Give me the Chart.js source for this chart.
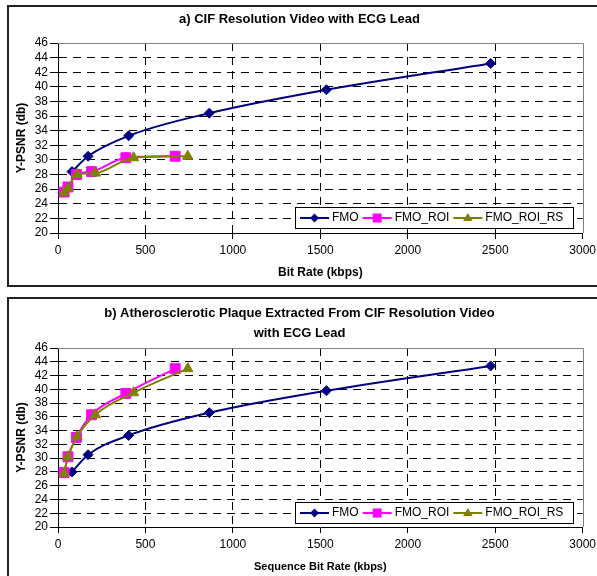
<!DOCTYPE html>
<html>
<head>
<meta charset="utf-8">
<script src="https://cdn.jsdelivr.net/npm/chart.js@4.4.0/dist/chart.umd.min.js"></script>
<style>
  html, body { margin: 0; padding: 0; background: #fff; overflow: hidden; }
  .box { position: absolute; left: 7px; width: 595px; border: 2px solid #222; box-sizing: border-box; background: #fff; }
  #boxA { top: 5px; height: 282px; }
  #boxB { top: 297px; height: 281px; }
  canvas { display: block; }
</style>
</head>
<body>
<div class="box" id="boxA"><canvas id="chartA" width="591" height="278"></canvas></div>
<div class="box" id="boxB"><canvas id="chartB" width="591" height="277"></canvas></div>
<script>
// bit rates (kbps), same encodings in both plots
const fmoRate = [80, 172, 404, 865, 1535, 2474];
const roiRate = [35, 57, 105, 192, 388, 670];
const roiRsRate = [35, 57, 109, 214, 432, 742];

// a) whole CIF frame, Y-PSNR (db)
const fmoA = [28.4, 30.5, 33.3, 36.4, 39.6, 43.2];
const roiA = [25.6, 26.3, 28.0, 28.4, 30.3, 30.5];
const roiRsA = [25.5, 26.1, 28.0, 28.2, 30.3, 30.5];

// b) plaque region only
const fmoB = [28.0, 30.5, 33.3, 36.6, 39.8, 43.4];
const roiB = [27.9, 30.2, 33.0, 36.3, 39.4, 43.0];
const roiRsB = [27.8, 30.2, 33.1, 36.3, 39.5, 43.0];

const seriesNames = ["FMO", "FMO_ROI", "FMO_ROI_RS"];
const yRange = [20, 46, 2];      // min, max, step
const xRange = [0, 3000, 500];

const colors = ["#000080", "#FF00FF", "#808000"];
const markers = ["rectRot", "rect", "triangle"];
const markerSize = [5, 7, 6];
const FONT = 'Arial, "Liberation Sans", sans-serif';

Chart.defaults.font.family = FONT;
Chart.defaults.color = "#000";

// small marker for the legend
function drawMarker(ctx, style, x, y, r) {
  ctx.beginPath();
  if (style === "rectRot") {
    ctx.moveTo(x, y - r); ctx.lineTo(x + r, y); ctx.lineTo(x, y + r); ctx.lineTo(x - r, y);
  } else if (style === "rect") {
    ctx.rect(x - r, y - r, 2 * r, 2 * r);
  } else {
    ctx.moveTo(x, y - r); ctx.lineTo(x + r * 0.95, y + r * 0.6); ctx.lineTo(x - r * 0.95, y + r * 0.6);
  }
  ctx.closePath();
  ctx.fill();
}

// legend box sitting inside the plot, bottom right
const insideLegend = {
  id: "insideLegend",
  afterDatasetsDraw(chart, args, opts) {
    const ctx = chart.ctx, a = chart.chartArea;
    const w = 278, h = 21;
    const left = Math.round(a.right - opts.right - w), top = Math.round(a.bottom - opts.bottom - h);
    ctx.save();
    ctx.fillStyle = "#fff";
    ctx.fillRect(left, top, w, h);
    ctx.strokeStyle = "#000";
    ctx.lineWidth = 1;
    ctx.strokeRect(left + 0.5, top + 0.5, w, h);
    ctx.font = "12px " + FONT;
    ctx.textBaseline = "middle";
    const cy = top + h / 2 + 0.5;
    let x = left + 5;
    seriesNames.forEach((name, i) => {
      ctx.strokeStyle = colors[i];
      ctx.lineWidth = 2;
      ctx.beginPath(); ctx.moveTo(x, cy); ctx.lineTo(x + 29, cy); ctx.stroke();
      ctx.fillStyle = colors[i];
      drawMarker(ctx, markers[i], x + 14.5, cy, [4.5, 4.5, 5][i]);
      ctx.fillStyle = "#000";
      ctx.fillText(name, x + 32, cy);
      x += 32 + ctx.measureText(name).width + 4;
    });
    ctx.restore();
  }
};

// grey frame on top and right of plot area
const plotFrame = {
  id: "plotFrame",
  beforeDatasetsDraw(chart) {
    const ctx = chart.ctx, a = chart.chartArea;
    ctx.save();
    ctx.strokeStyle = "#808080";
    ctx.lineWidth = 1;
    ctx.beginPath();
    ctx.moveTo(a.left, Math.round(a.top) + 0.5);
    ctx.lineTo(Math.round(a.right) + 0.5, Math.round(a.top) + 0.5);
    ctx.lineTo(Math.round(a.right) + 0.5, a.bottom);
    ctx.stroke();
    ctx.restore();
  }
};

function makeDatasets(fmo, roi, roiRs) {
  const ys = [fmo, roi, roiRs];
  const xs = [fmoRate, roiRate, roiRsRate];
  return ys.map((vals, i) => ({
    label: seriesNames[i],
    data: vals.map((v, j) => ({ x: xs[i][j], y: v })),
    borderColor: colors[i],
    backgroundColor: colors[i],
    pointBorderColor: colors[i],
    pointBackgroundColor: colors[i],
    pointStyle: markers[i],
    pointRadius: markerSize[i],
    pointBorderWidth: 1,
    borderWidth: 2,
    cubicInterpolationMode: "monotone",
    order: 2 - i
  }));
}

function makeChart(id, opt) {
  return new Chart(document.getElementById(id), {
    type: "line",
    data: { datasets: makeDatasets(opt.fmo, opt.roi, opt.roiRs) },
    options: {
      responsive: false,
      animation: false,
      events: [],
      layout: { padding: { left: 0, right: 10, top: 0, bottom: 0 } },
      plugins: {
        legend: { display: false },
        tooltip: { enabled: false },
        title: {
          display: true,
          text: opt.title,
          color: "#000",
          font: { size: 13, weight: "bold", lineHeight: opt.titleLH },
          padding: opt.titlePad
        },
        insideLegend: { right: 10, bottom: opt.legendBottom }
      },
      scales: {
        x: {
          type: "linear",
          min: xRange[0], max: xRange[1],
          afterFit(s) { s.height = opt.xAxisH; },
          ticks: {
            stepSize: xRange[2], autoSkip: false, color: "#000", font: { size: 12 },
            padding: 4, maxRotation: 0, callback: v => String(v)
          },
          grid: {
            color: c => (c.tick && c.tick.value === xRange[1]) ? "rgba(0,0,0,0)" : "#000",
            tickColor: "#000", tickLength: 6, tickBorderDash: []
          },
          border: { display: true, color: "#000", width: 1, dash: [8, 6] },
          title: {
            display: true, text: opt.xTitle, color: "#000",
            font: { size: opt.xTitleSize, weight: "bold" },
            padding: { top: 0, bottom: opt.xTitlePad }
          }
        },
        y: {
          min: yRange[0], max: yRange[1],
          afterFit(s) { s.width = 49; },
          ticks: {
            stepSize: yRange[2], autoSkip: false, color: "#000", font: { size: 12 },
            padding: 2, callback: v => String(v)
          },
          grid: {
            color: c => (c.tick && c.tick.value === yRange[1]) ? "rgba(0,0,0,0)" : "#000",
            tickColor: "#000", tickLength: 8, tickBorderDash: []
          },
          border: { display: true, color: "#000", width: 1, dash: [8, 6] },
          title: {
            display: true, text: "Y-PSNR (db)", color: "#000",
            font: { size: 12, weight: "bold" },
            padding: { top: 5, bottom: 0 }
          }
        }
      }
    },
    plugins: [plotFrame, insideLegend]
  });
}

makeChart("chartA", {
  fmo: fmoA, roi: roiA, roiRs: roiRsA,
  title: "a) CIF Resolution Video with ECG Lead",
  titleLH: 1.2, titlePad: { top: 5, bottom: 15.4 },
  xTitle: "Bit Rate (kbps)", xTitleSize: 12, xTitlePad: 4.8,
  xAxisH: 52, legendBottom: 5
});

makeChart("chartB", {
  fmo: fmoB, roi: roiB, roiRs: roiRsB,
  title: ["b) Atherosclerotic Plaque Extracted From CIF Resolution Video", "with ECG Lead"],
  titleLH: 1.5, titlePad: { top: 5, bottom: 5 },
  xTitle: "Sequence Bit Rate (kbps)", xTitleSize: 11, xTitlePad: 2.7,
  xAxisH: 49, legendBottom: 4
});
</script>
</body>
</html>
